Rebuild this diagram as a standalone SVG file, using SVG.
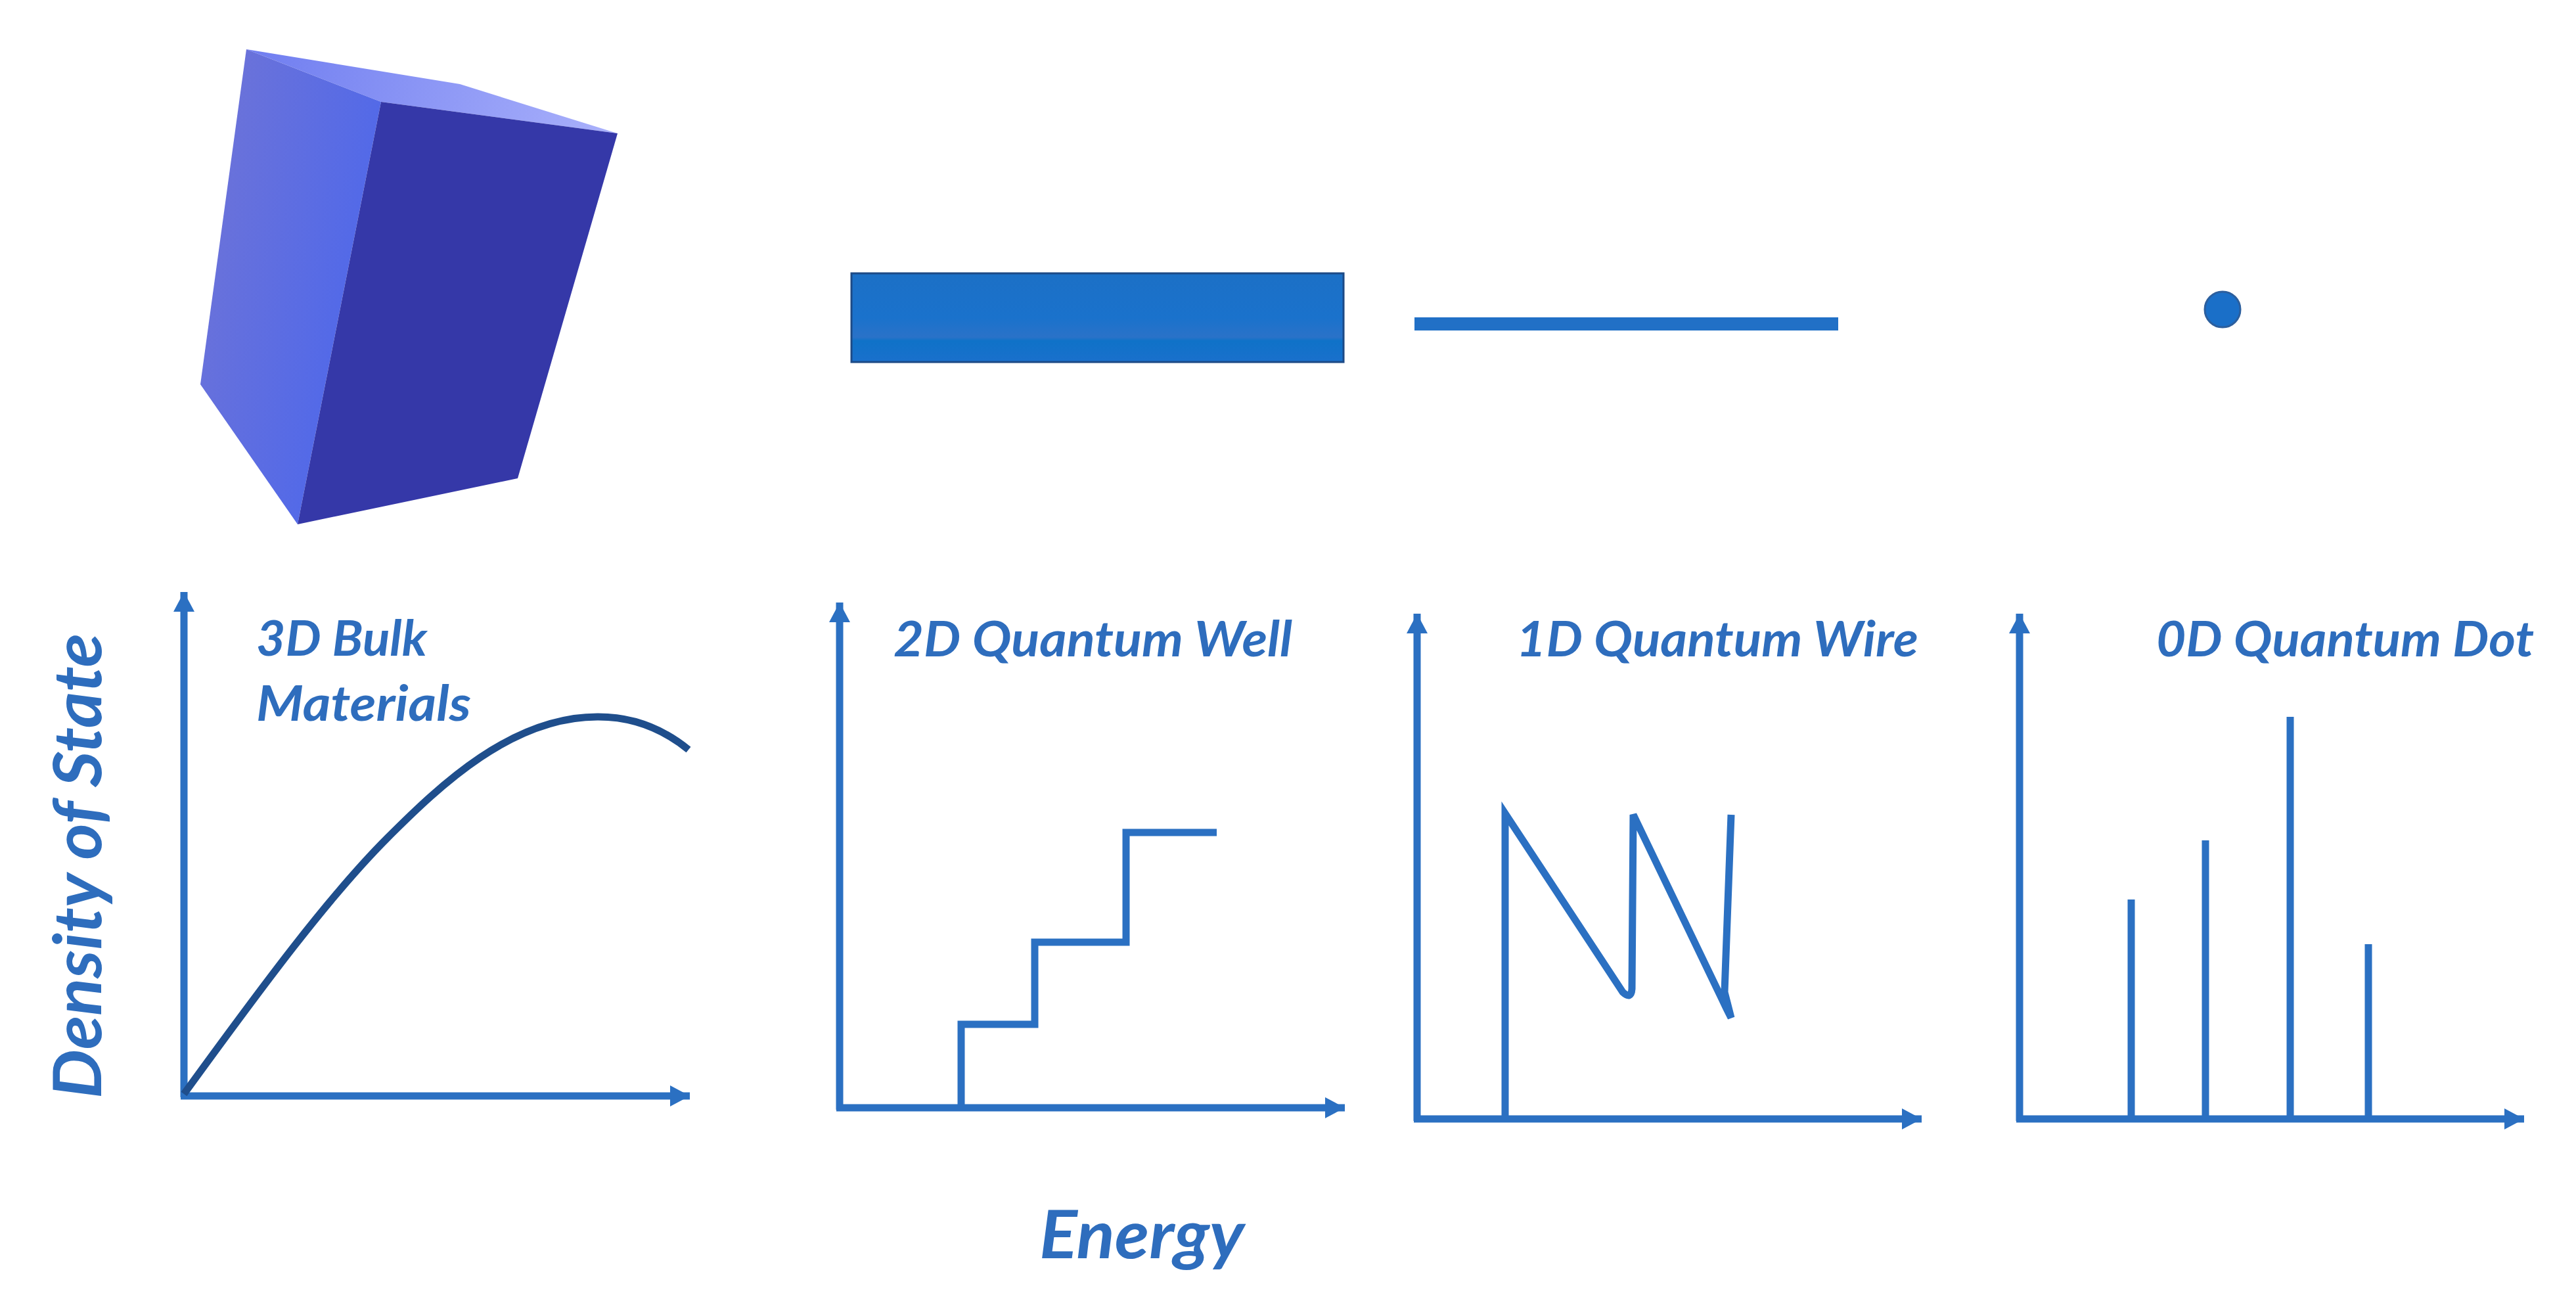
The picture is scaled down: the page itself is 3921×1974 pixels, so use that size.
<svg xmlns="http://www.w3.org/2000/svg" width="3921" height="1974" viewBox="0 0 3921 1974">
<style>
.ln{fill:none;stroke:#2b70c2;stroke-width:11}
.ax{fill:none;stroke:#2b70c2;stroke-width:11;marker-end:url(#ah)}
.t{font-family:Lato,"Open Sans",sans-serif;font-weight:700;font-style:italic;fill:#2e6dbd}
.s{font-size:74px}
.b{font-size:102px}
</style>
<defs>
<marker id="ah" markerUnits="userSpaceOnUse" markerWidth="40" markerHeight="40" refX="30" refY="16" orient="auto"><path d="M0 0L30 16L0 32Z" fill="#2b70c2"/></marker>
<linearGradient id="lf" gradientUnits="userSpaceOnUse" x1="305" y1="420" x2="560" y2="470"><stop offset="0" stop-color="#6a72da"/><stop offset="1" stop-color="#4f68ea"/></linearGradient>
<linearGradient id="tp" gradientUnits="userSpaceOnUse" x1="375" y1="80" x2="938" y2="200"><stop offset="0" stop-color="#6f7df0"/><stop offset="1" stop-color="#aab1fb"/></linearGradient>
<linearGradient id="wl" x1="0" y1="0" x2="0" y2="1"><stop offset="0" stop-color="#1c70c6"/><stop offset=".5" stop-color="#1a72cc"/><stop offset=".72" stop-color="#2a72c8"/><stop offset=".76" stop-color="#0f72c8"/><stop offset="1" stop-color="#1a70cc"/></linearGradient>
</defs>
<rect width="3921" height="1974" fill="#fff"/>
<g id="cube-3d">
<polygon points="375,75 580,155 940,203 700,128" fill="url(#tp)"/>
<polygon points="375,75 580,155 453,798 305,585" fill="url(#lf)"/>
<polygon points="580,155 940,203 788,728 453,798" fill="#3538a8"/>
</g>
<g id="well-2d"><rect x="1296" y="416" width="749" height="135" fill="url(#wl)" stroke="#1d4a86" stroke-width="3"/></g>
<g id="wire-1d"><rect x="2153" y="483" width="645" height="20" fill="#2170c6"/></g>
<g id="dot-0d"><circle cx="3383" cy="471" r="27" fill="#1a6fc8" stroke="#2c5f9e" stroke-width="3"/></g>
<g id="connectors">
<path class="ax" d="M280 1670V901"/><path class="ax" d="M275 1668H1050"/>
<path class="ax" d="M1278 1689V917"/><path class="ax" d="M1273 1686H2047"/>
<path class="ax" d="M2157 1706V934"/><path class="ax" d="M2152 1703H2925"/>
<path class="ax" d="M3074 1706V934"/><path class="ax" d="M3069 1703H3842"/>
<path d="M280 1665C400 1500 500 1365 590 1275C670 1195 780 1090 911 1091C965 1091 1010 1110 1048 1141" fill="none" stroke="#1f4e8c" stroke-width="11"/>
<path class="ln" d="M1463 1686V1559H1575V1434H1714V1267H1852"/>
<path class="ln" d="M2291 1703V1238L2470 1510Q2483 1522 2484 1505L2486 1240L2628 1535L2635 1549L2625 1510L2635 1240"/>
<path class="ln" d="M3244 1703V1369M3357 1703V1279M3486 1703V1091M3605 1703V1437"/>
</g>
<g id="labels">
<text class="t s" x="390" y="998" textLength="260" lengthAdjust="spacingAndGlyphs">3D Bulk</text>
<text class="t s" x="390" y="1097" textLength="327" lengthAdjust="spacingAndGlyphs">Materials</text>
<text class="t s" x="1360" y="999" textLength="607" lengthAdjust="spacingAndGlyphs">2D Quantum Well</text>
<text class="t s" x="2308" y="999" textLength="612" lengthAdjust="spacingAndGlyphs">1D Quantum Wire</text>
<text class="t s" x="3282" y="999" textLength="575" lengthAdjust="spacingAndGlyphs">0D Quantum Dot</text>
<text class="t b" x="1582" y="1915" textLength="312" lengthAdjust="spacingAndGlyphs">Energy</text>
<text class="t b" transform="translate(154 1672) rotate(-90)" textLength="708" lengthAdjust="spacingAndGlyphs">Density of State</text>
</g>
</svg>
